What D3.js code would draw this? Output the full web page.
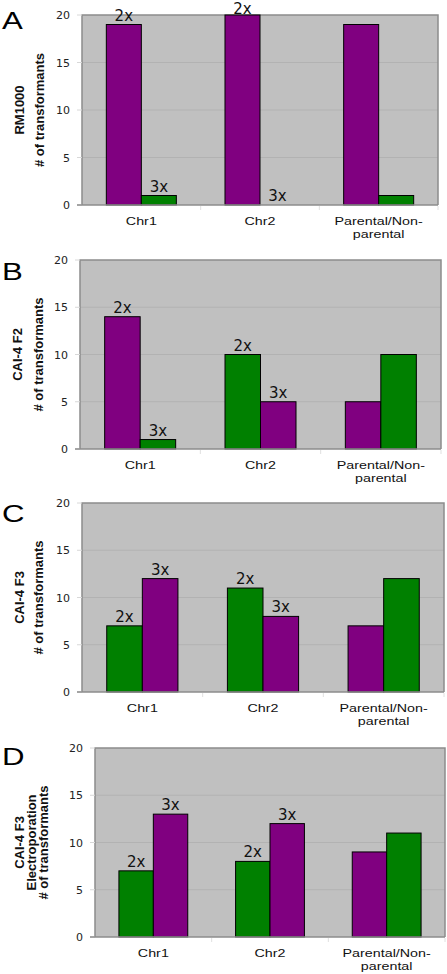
<!DOCTYPE html>
<html>
<head>
<meta charset="utf-8">
<script src="https://cdn.jsdelivr.net/npm/d3@7"></script>
<style>
  html, body { margin: 0; padding: 0; background: #ffffff; }
  svg { display: block; }
</style>
</head>
<body>
<svg id="chart" width="447" height="974"></svg>
<script>
// ---------- DATA ----------
const categories = ["Chr1", "Chr2", "Parental/Non-parental"];
const categoryLines = [["Chr1"], ["Chr2"], ["Parental/Non-", "parental"]];
const yTicks = [0, 5, 10, 15, 20];
const panelLetters = ["A", "B", "C", "D"];
const panelYLabels = [
  ["RM1000", "# of transformants"],
  ["CAI-4 F2", "# of transformants"],
  ["CAI-4 F3", "# of transformants"],
  ["CAI-4 F3", "Electroporation", "# of transformants"]
];
// first (left) and second (right) bar in each category group
const valuesA1 = [19, 20, 19], valuesA2 = [1, 0, 1];
const valuesB1 = [14, 10, 5],  valuesB2 = [1, 5, 10];
const valuesC1 = [7, 11, 7],   valuesC2 = [12, 8, 12];
const valuesD1 = [7, 8, 9],    valuesD2 = [13, 12, 11];
// bar colour keys: P = purple, G = green
const colorsA1 = ["P", "P", "P"], colorsA2 = ["G", "G", "G"];
const colorsB1 = ["P", "G", "P"], colorsB2 = ["G", "P", "G"];
const colorsC1 = ["G", "G", "P"], colorsC2 = ["P", "P", "G"];
const colorsD1 = ["G", "G", "P"], colorsD2 = ["P", "P", "G"];
// bar annotations
const labels1 = ["2x", "2x", ""];
const labels2 = ["3x", "3x", ""];

// ---------- LAYOUT ----------
const palette = { P: "#800080", G: "#008000" };
const panels = [
  { v1: valuesA1, v2: valuesA2, c1: colorsA1, c2: colorsA2, left: 82, right: 438, top: 15,  bottom: 205, letterY: 29,  ylx: [20, 40] },
  { v1: valuesB1, v2: valuesB2, c1: colorsB1, c2: colorsB2, left: 80, right: 441, top: 260, bottom: 449, letterY: 280, ylx: [18, 39] },
  { v1: valuesC1, v2: valuesC2, c1: colorsC1, c2: colorsC2, left: 82, right: 444, top: 503, bottom: 692, letterY: 522, ylx: [20, 39] },
  { v1: valuesD1, v2: valuesD2, c1: colorsD1, c2: colorsD2, left: 95, right: 445, top: 748, bottom: 937, letterY: 765, ylx: [20, 32, 44] }
];

const svg = d3.select("#chart");

panels.forEach((p, i) => {
  const g = svg.append("g");
  const x = d3.scaleBand().domain(categories).range([p.left, p.right]).paddingInner(0).paddingOuter(0);
  const y = d3.scaleLinear().domain([0, 20]).range([p.bottom, p.top]);
  const barW = x.bandwidth() * 0.295;

  // plot background
  g.append("rect")
    .attr("x", p.left).attr("y", p.top)
    .attr("width", p.right - p.left).attr("height", p.bottom - p.top)
    .attr("fill", "#c0c0c0");

  // gridlines
  g.selectAll(".grid").data(yTicks.filter(t => t > 0 && t < 20)).enter().append("line")
    .attr("x1", p.left).attr("x2", p.right)
    .attr("y1", d => y(d)).attr("y2", d => y(d))
    .attr("stroke", "#b2b2b2").attr("stroke-width", 1);

  // border (top, left, right)
  g.append("path")
    .attr("d", `M${p.left},${p.bottom}V${p.top}H${p.right}V${p.bottom}`)
    .attr("fill", "none").attr("stroke", "#8c8c8c").attr("stroke-width", 1.5);

  // y axis tick labels
  const yAxis = d3.axisLeft(y).tickValues(yTicks).tickSize(0).tickPadding(12);
  const ya = g.append("g").attr("transform", `translate(${p.left},0)`).call(yAxis);
  ya.select(".domain").remove();
  ya.selectAll("text")
    .attr("font-family", "'DejaVu Sans', Verdana, sans-serif")
    .attr("font-size", 11).attr("fill", "#222");
  // small left tick stubs
  g.selectAll(".ystub").data(yTicks).enter().append("line")
    .attr("x1", p.left - 5).attr("x2", p.left)
    .attr("y1", d => y(d)).attr("y2", d => y(d))
    .attr("stroke", "#d8d8d8").attr("stroke-width", 1);

  // bars
  const bars1 = categories.map((c, k) => ({ c, v: p.v1[k], col: p.c1[k], lab: labels1[k], off: -barW }));
  const bars2 = categories.map((c, k) => ({ c, v: p.v2[k], col: p.c2[k], lab: labels2[k], off: 0 }));
  const bars = bars1.concat(bars2);
  g.selectAll(".bar").data(bars).enter().append("rect")
    .attr("x", d => x(d.c) + x.bandwidth() / 2 + d.off)
    .attr("y", d => y(d.v))
    .attr("width", barW)
    .attr("height", d => y(0) - y(d.v))
    .attr("fill", d => palette[d.col])
    .attr("stroke", "#000").attr("stroke-width", 1);

  // x axis line + category separators
  g.append("line")
    .attr("x1", p.left - 5).attr("x2", p.right)
    .attr("y1", p.bottom).attr("y2", p.bottom)
    .attr("stroke", "#8c8c8c").attr("stroke-width", 1.5);
  g.selectAll(".sep").data(categories).enter().append("line")
    .attr("x1", d => x(d) + x.bandwidth()).attr("x2", d => x(d) + x.bandwidth())
    .attr("y1", p.bottom + 1).attr("y2", p.bottom + 5)
    .attr("stroke", "#e0e0e0").attr("stroke-width", 1);

  // bar annotations
  g.selectAll(".lab").data(bars.filter(d => d.lab)).enter().append("text")
    .attr("x", d => x(d.c) + x.bandwidth() / 2 + d.off + barW / 2)
    .attr("y", d => Math.max(y(d.v) - 4, 14))
    .attr("text-anchor", "middle")
    .attr("font-family", "'DejaVu Sans', Verdana, sans-serif")
    .attr("font-size", 15).attr("fill", "#111")
    .text(d => d.lab);

  // category labels (horizontally stretched Arial-like)
  categories.forEach((c, k) => {
    const cg = g.append("g")
      .attr("transform", `translate(${x(c) + x.bandwidth() / 2},${p.bottom + 20}) scale(1.3,1)`);
    cg.selectAll("text").data(categoryLines[k]).enter().append("text")
      .attr("x", 0).attr("y", (d, j) => j * 13)
      .attr("text-anchor", "middle")
      .attr("font-family", "'Liberation Sans', Arial, sans-serif")
      .attr("font-size", 11).attr("fill", "#111")
      .text(d => d);
  });

  // y axis title lines
  const cy = (p.top + p.bottom) / 2;
  panelYLabels[i].forEach((t, j) => {
    g.append("text")
      .attr("transform", `translate(${p.ylx[j] + 4},${cy}) rotate(-90)`)
      .attr("text-anchor", "middle")
      .attr("font-family", "'Liberation Sans Narrow', 'Arial Narrow', 'Liberation Sans', sans-serif")
      .attr("font-weight", "bold")
      .attr("font-size", 13).attr("fill", "#111")
      .text(t);
  });

  // panel letter
  g.append("text")
    .attr("transform", `translate(2,${p.letterY}) scale(1.3,1)`)
    .attr("font-family", "'Liberation Sans', Arial, sans-serif")
    .attr("font-size", 24).attr("fill", "#000")
    .text(panelLetters[i]);
});
</script>
</body>
</html>
